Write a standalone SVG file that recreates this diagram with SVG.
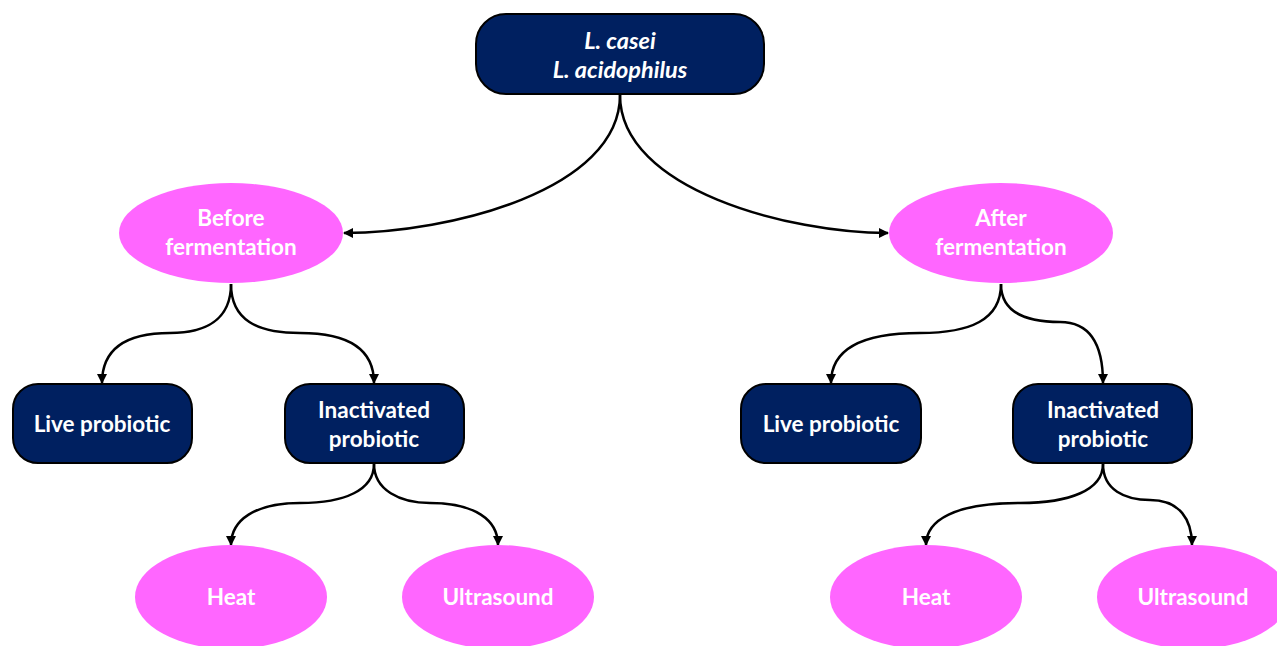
<svg xmlns="http://www.w3.org/2000/svg" width="1277" height="646" viewBox="0 0 1277 646">
<defs>
<style>
.box{fill:#002060;stroke:#000;stroke-width:2}
.ell{fill:#FF66FF}
.t{font-family:Lato,"Open Sans","Liberation Sans",sans-serif;font-weight:bold;font-size:22.5px;fill:#fff;text-anchor:middle}
.it{font-style:italic;font-size:23.5px}
.c{fill:none;stroke:#000;stroke-width:2.5}
</style>
<marker id="ah" viewBox="0 0 10 10" refX="9" refY="5" markerWidth="4" markerHeight="4" orient="auto" markerUnits="strokeWidth">
<path d="M0,0 L10,5 L0,10 z" fill="#000"/>
</marker>
</defs>
<rect width="1277" height="646" fill="#fff"/>
<g id="connectors">
<path class="c" marker-end="url(#ah)" d="M620,95 C620,190 450,233 344,233"/>
<path class="c" marker-end="url(#ah)" d="M620,95 C620,190 790,233 888,233"/>
<path class="c" marker-end="url(#ah)" d="M231,284 C231,320 205,333 170,333 C125,333 102,350 102,383"/>
<path class="c" marker-end="url(#ah)" d="M231,284 C231,320 257,333 300,333 C350,333 374,350 374,383"/>
<path class="c" marker-end="url(#ah)" d="M374,464 C374,490 345,503 300,503 C255,503 231,520 231,545"/>
<path class="c" marker-end="url(#ah)" d="M374,464 C374,490 400,503 430,503 C475,503 498,520 498,545"/>
<path class="c" marker-end="url(#ah)" d="M1001,284 C1001,320 970,333 920,333 C860,333 831,350 831,383"/>
<path class="c" marker-end="url(#ah)" d="M1001,284 C1001,315 1030,322 1060,322 C1090,322 1103,345 1103,383"/>
<path class="c" marker-end="url(#ah)" d="M1103,464 C1103,490 1070,503 1020,503 C955,503 926,520 926,545"/>
<path class="c" marker-end="url(#ah)" d="M1103,464 C1103,490 1125,500 1150,500 C1180,500 1192,520 1192,545"/>
</g>
<g id="root">
<rect class="box" x="476" y="14" width="288" height="80" rx="30"/>
<text class="t it" x="620" y="49">L. casei</text>
<text class="t it" x="620" y="78">L. acidophilus</text>
</g>
<g id="before">
<ellipse class="ell" cx="231" cy="233" rx="112" ry="50"/>
<text class="t" x="231" y="226">Before</text>
<text class="t" x="231" y="255">fermentation</text>
</g>
<g id="after">
<ellipse class="ell" cx="1001" cy="233" rx="112" ry="50"/>
<text class="t" x="1001" y="226">After</text>
<text class="t" x="1001" y="255">fermentation</text>
</g>
<g id="live-l">
<rect class="box" x="13" y="384" width="179" height="79" rx="25"/>
<text class="t" x="102" y="432">Live probiotic</text>
</g>
<g id="inact-l">
<rect class="box" x="285" y="384" width="179" height="79" rx="25"/>
<text class="t" x="374" y="418">Inactivated</text>
<text class="t" x="374" y="447">probiotic</text>
</g>
<g id="live-r">
<rect class="box" x="741" y="384" width="180" height="79" rx="25"/>
<text class="t" x="831" y="432">Live probiotic</text>
</g>
<g id="inact-r">
<rect class="box" x="1013" y="384" width="179" height="79" rx="25"/>
<text class="t" x="1103" y="418">Inactivated</text>
<text class="t" x="1103" y="447">probiotic</text>
</g>
<g id="heat-l">
<ellipse class="ell" cx="231" cy="597" rx="96" ry="52"/>
<text class="t" x="231" y="605">Heat</text>
</g>
<g id="us-l">
<ellipse class="ell" cx="498" cy="597" rx="96" ry="52"/>
<text class="t" x="498" y="605">Ultrasound</text>
</g>
<g id="heat-r">
<ellipse class="ell" cx="926" cy="597" rx="96" ry="52"/>
<text class="t" x="926" y="605">Heat</text>
</g>
<g id="us-r">
<ellipse class="ell" cx="1193" cy="597" rx="96" ry="52"/>
<text class="t" x="1193" y="605">Ultrasound</text>
</g>
</svg>
